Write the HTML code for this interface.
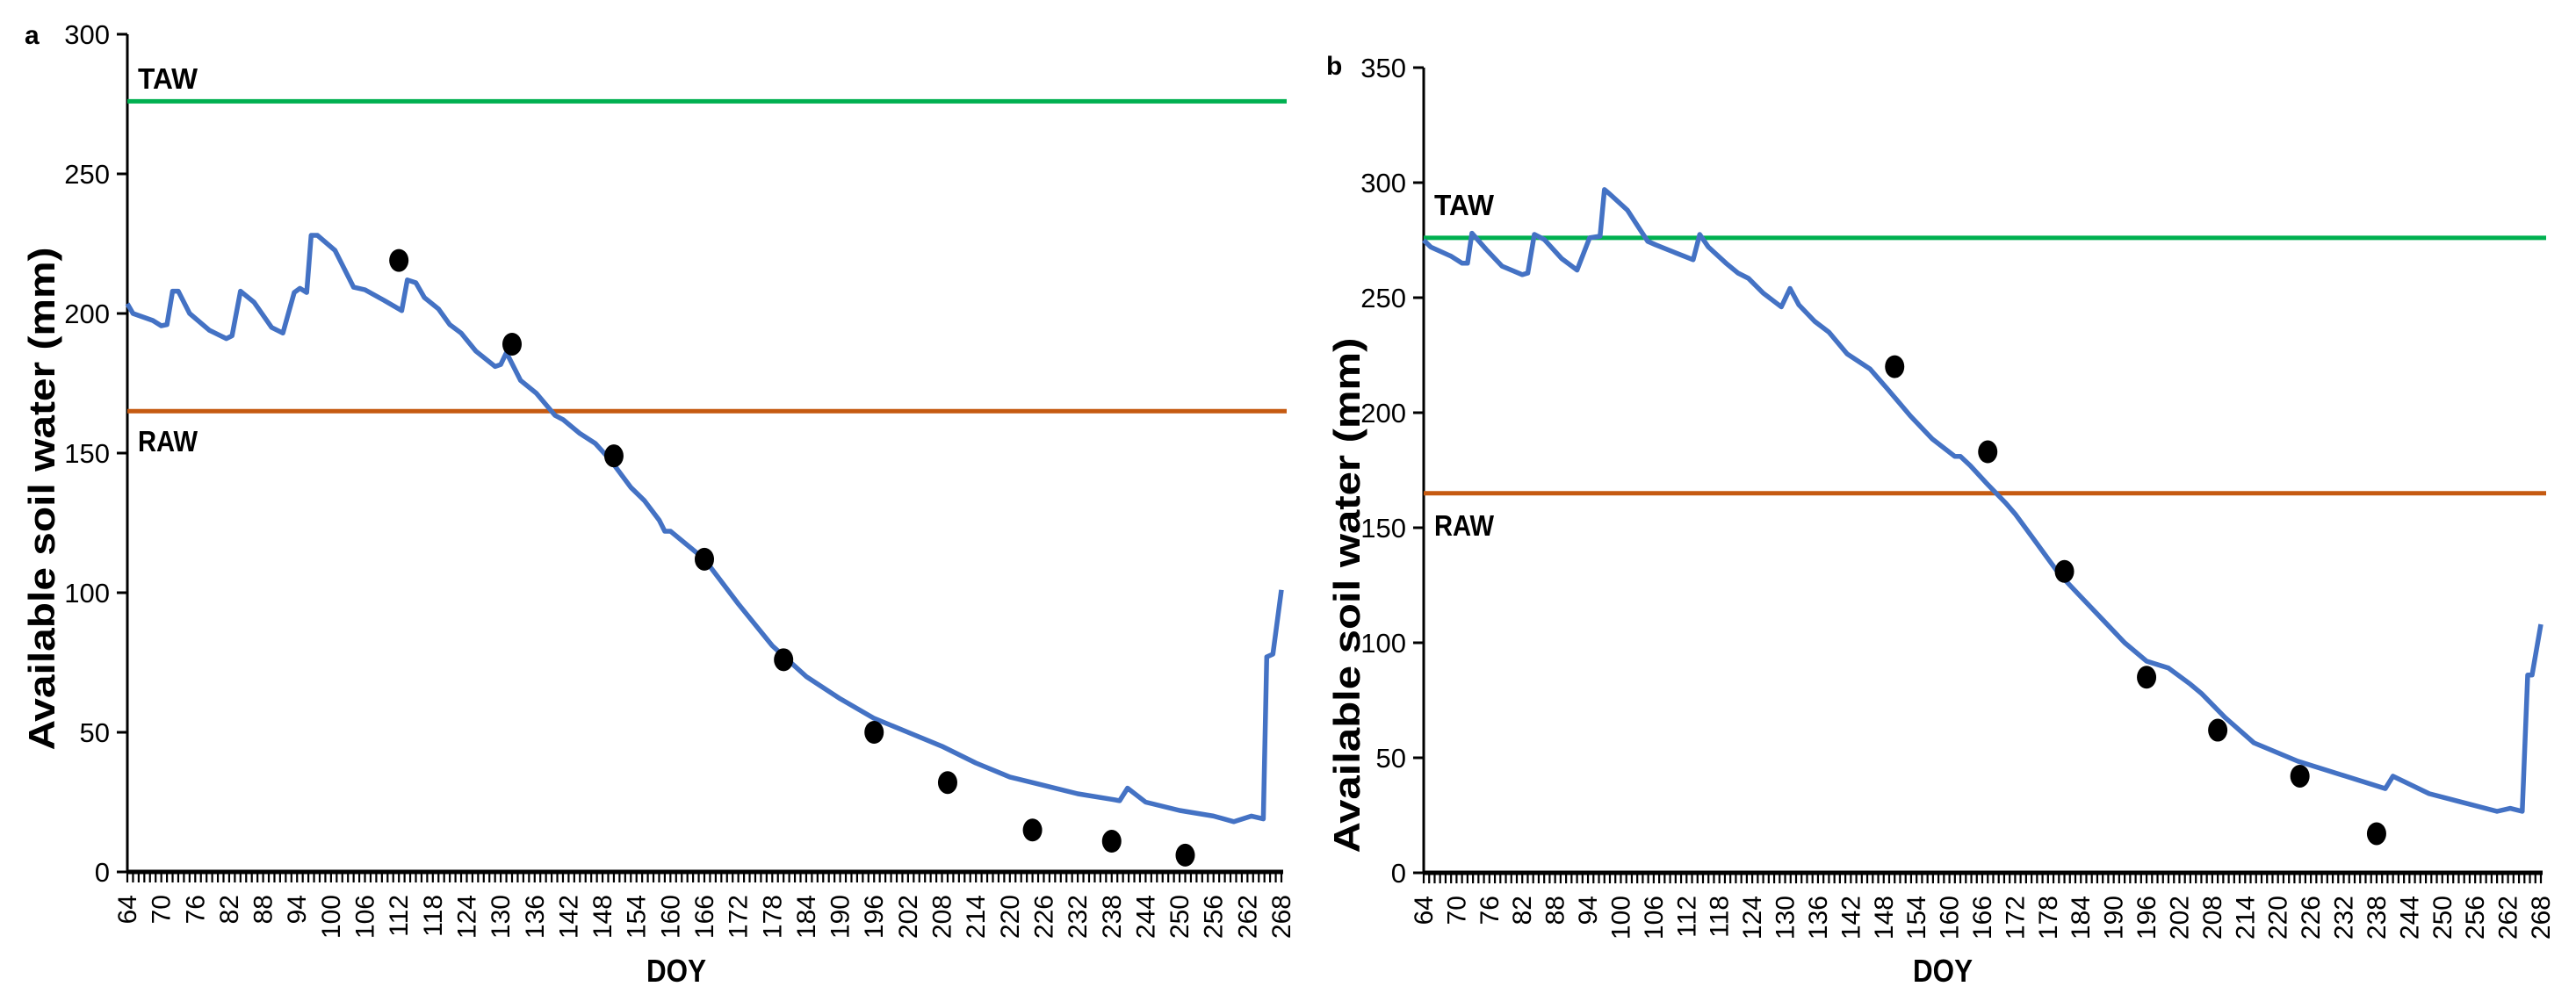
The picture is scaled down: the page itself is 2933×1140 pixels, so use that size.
<!DOCTYPE html>
<html><head><meta charset="utf-8"><style>
html,body{margin:0;padding:0;background:#fff;}
svg{display:block;font-family:"Liberation Sans",sans-serif;}
</style></head><body>
<svg id="chart" width="2933" height="1140" viewBox="0 0 2933 1140"></svg>
<script>
// Panel a data
const aDoy = [64,65,68.5,70,71,72,73,75,78.5,81.5,82.5,84,86.4,89.5,91.5,93.5,94.5,95.7,96.5,97.6,100.7,104,106,109.4,112.5,113.5,115,116.5,119,121,123,125.6,129,130,131,133.5,136.3,139.6,141,144,146.7,149.4,153,155.4,158,159,160,166,172,178,184,190,196,202,208,214,220,226,232,238,239.4,240.8,244,250,256,259.6,262.7,264.8,265.4,266.5,268];
const aVal = [203.5,200,197.5,195.6,196,208,208,200,194,191,192,208,204,195,193,207.5,209,207.5,228,228,222.6,209.4,208.5,204.7,201,212,211,205.7,201.6,196,193,186.5,181,181.7,186,176,171.4,163.5,162,157,153.5,147.5,137.7,133,126,122,122,112,96,81,70,62,55,50,45,39,34,31,28,26,25.5,30,25,22,20,18,20,19,77,78,101];
const aObsDoy = [112,132,150,166,180,196,209,224,238,251];
const aObsVal = [219,189,149,112,76,50,32,15,11,6];
// Panel b data
const bDoy = [64,65.3,69,71,72,72.8,75.4,78.3,82,83,84.2,86,89.2,92,94.3,96.2,97,98,101.2,104.9,106.3,110,113.2,114.4,116,119.2,121.4,123.3,126,129.3,130.9,132.5,135.4,138,141.3,145.5,148.7,152.9,156.9,161,162,163.8,166.7,170.3,172,176,180,184,188,192,196,200,204,206,210.3,215.6,223.6,239.6,241,247.6,260,262.4,264.6,265.6,266.4,268];
const bVal = [275,272,268,265,265,278,271,263.7,260,260.7,277.5,275.3,267,262,276,276.7,297,295,288,274.5,273,269.5,266.5,277.5,272,265,260.7,258.4,252,246,254,246.9,239.7,235,225.6,219,210.3,198.5,188.5,181,181,177,169.5,160.7,156,143,130,120,110,100,92,89,82,78,67.6,56.5,48.5,36.6,42,34.4,26.7,28,26.7,86,86,108];
const bObsDoy = [150,167,181,196,209,224,238];
const bObsVal = [220,183,131,85,62,42,17];
const yTicksA = [0,50,100,150,200,250,300];
const yTicksB = [0,50,100,150,200,250,300,350];
const TAW = 276, RAW = 165;

const NS = "http://www.w3.org/2000/svg";
const svg = document.getElementById('chart');
function mk(tag, attrs, parent){ const e=document.createElementNS(NS,tag); for(const k in attrs) e.setAttribute(k,attrs[k]); (parent||svg).appendChild(e); return e; }

function panel(p){
  const g = mk('g',{});
  
  
  const x = d => p.x0 + (d-64)*(p.x1-p.x0)/204;
  const y = v => p.y0 - v*(p.y0-p.yTop)/p.yMax;
  const ya = mk('line',{x1:p.x0,y1:y(p.yMax),x2:p.x0,y2:p.y0,stroke:'#000','stroke-width':3},g);
   
  p.yTicks.forEach(t=>{
    const tl=mk('line',{x1:p.x0-12,y1:y(t),x2:p.x0,y2:y(t),stroke:'#000','stroke-width':3},g);
     
    const tx=mk('text',{x:p.x0-20,y:y(t)+11,'text-anchor':'end','font-size':31},g);
    tx.textContent=t;
     
  });
  const xa = mk('line',{x1:p.x0,y1:p.y0,x2:p.x1+2,y2:p.y0,stroke:'#000','stroke-width':5},g);
   
  for(let d=64; d<=268; d++){
    const tl=mk('line',{x1:x(d),y1:p.y0,x2:x(d),y2:p.y0+12,stroke:'#000','stroke-width':2.2},g);
     
    if((d-64)%6===0){
      const tx=mk('text',{x:0,y:0,'text-anchor':'end','font-size':30,transform:`translate(${x(d)+10},${p.y0+26}) rotate(-90)`},g);
      tx.textContent=d;
       
    }
  }
  const tw=mk('line',{x1:p.x0,y1:y(TAW),x2:p.x1+6,y2:y(TAW),stroke:'#00B050','stroke-width':5},g);
   
  const rw=mk('line',{x1:p.x0,y1:y(RAW),x2:p.x1+6,y2:y(RAW),stroke:'#C55A11','stroke-width':5},g);
   
  const tt=mk('text',{x:p.x0+12,y:p.tawLabelY,'font-size':33,'font-weight':'bold',textLength:68,lengthAdjust:'spacingAndGlyphs'},g);
  tt.textContent='TAW';  
  const rt=mk('text',{x:p.x0+12,y:p.rawLabelY,'font-size':33,'font-weight':'bold',textLength:68,lengthAdjust:'spacingAndGlyphs'},g);
  rt.textContent='RAW';  
  const pts = p.doy.map((d,i)=>x(d).toFixed(1)+','+y(p.val[i]).toFixed(1)).join(' ');
  const pl=mk('polyline',{points:pts,fill:'none',stroke:'#4472C4','stroke-width':5.5,'stroke-linejoin':'round'},g);
   
  p.obsDoy.forEach((d,i)=>{
    const c=mk('ellipse',{cx:x(d),cy:y(p.obsVal[i]),rx:11,ry:13,fill:'#000'},g);
     
  });
  const yt=mk('text',{x:0,y:0,'text-anchor':'middle','font-size':42,'font-weight':'bold',textLength:p.yTitleLen,lengthAdjust:'spacingAndGlyphs',transform:`translate(${p.yTitleX},${p.yTitleY}) rotate(-90)`},g);
  yt.textContent='Available soil water (mm)';  
  const xt=mk('text',{x:p.xTitleX,y:1118,'text-anchor':'middle','font-size':36,'font-weight':'bold',textLength:68,lengthAdjust:'spacingAndGlyphs'},g);
  xt.textContent='DOY';  
  const pt=mk('text',{x:p.letterX,y:p.letterY,'font-size':30,'font-weight':'bold'},g);
  pt.textContent=p.id;  
}

panel({id:'a',x0:145,x1:1459,y0:993,yTop:39,yMax:300,yTicks:yTicksA,doy:aDoy,val:aVal,obsDoy:aObsDoy,obsVal:aObsVal,
  tawLabelY:101,rawLabelY:514,yTitleX:62,yTitleY:568,yTitleLen:573,xTitleX:770,letterX:28,letterY:50});
panel({id:'b',x0:1621,x1:2893,y0:994,yTop:77,yMax:350,yTicks:yTicksB,doy:bDoy,val:bVal,obsDoy:bObsDoy,obsVal:bObsVal,
  tawLabelY:245,rawLabelY:610,yTitleX:1548,yTitleY:678,yTitleLen:587,xTitleX:2212,letterX:1510,letterY:85});
</script>
</body></html>
